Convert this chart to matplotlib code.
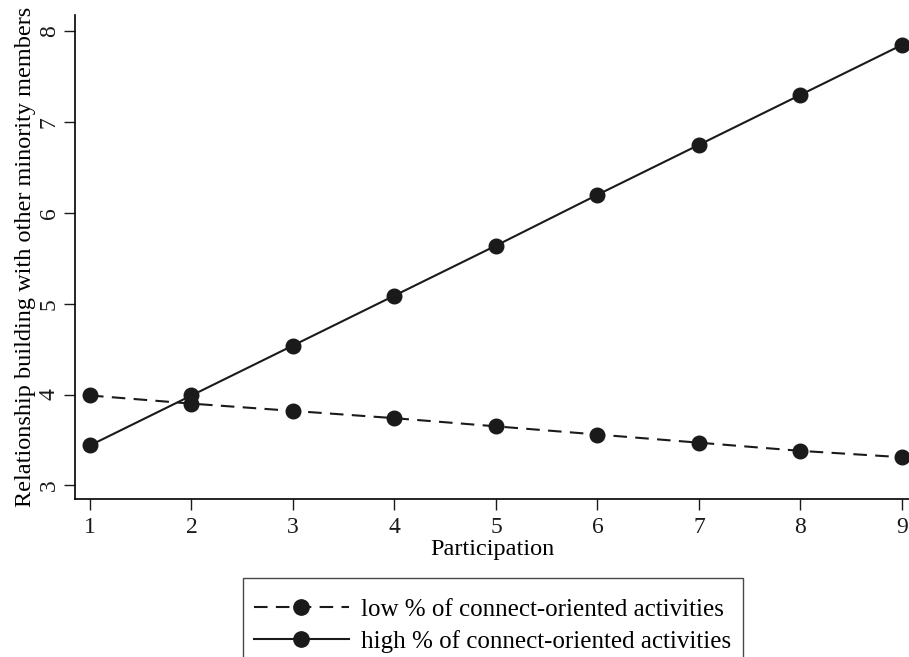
import numpy as np
import matplotlib
matplotlib.use("Agg")
import matplotlib.pyplot as plt

# data
participation = [1, 2, 3, 4, 5, 6, 7, 8, 9]
low_connect = [3.99, 3.90, 3.82, 3.74, 3.65, 3.56, 3.47, 3.38, 3.31]
high_connect = [3.44, 3.99, 4.54, 5.09, 5.64, 6.20, 6.75, 7.30, 7.85]
y_ticks = [3, 4, 5, 6, 7, 8]

plt.rcParams['font.family'] = ['Liberation Serif', 'DejaVu Serif']
plt.rcParams['font.size'] = 17

fig = plt.figure(figsize=(9.09, 6.57), dpi=100)
ax = fig.add_axes([0.0825, 0.2405, 0.9175, 0.7367])

ax.plot(participation, low_connect, color='#1a1a1a', linestyle=(0, (6.5, 4)),
        linewidth=1.5, marker='o', markersize=10.5,
        label='low % of connect-oriented activities')
ax.plot(participation, high_connect, color='#1a1a1a', linestyle='-',
        linewidth=1.5, marker='o', markersize=10.5,
        label='high % of connect-oriented activities')

ax.set_xlim(0.852, 9.07)
ax.set_ylim(2.85, 8.18)
ax.set_xticks(participation)
ax.set_yticks(y_ticks)
for lab in ax.get_yticklabels():
    lab.set_rotation(90)
    lab.set_va('center')

ax.tick_params(direction='out', length=8, width=1, colors='#1a1a1a', labelsize=17)
ax.tick_params(axis='y', pad=3)
ax.tick_params(axis='x', pad=5)
ax.spines['top'].set_visible(False)
ax.spines['right'].set_visible(False)
ax.spines['left'].set_linewidth(1.2)
ax.spines['bottom'].set_linewidth(1.2)

ax.set_xlabel('Participation', fontsize=17.5, labelpad=1)
ax.set_ylabel('Relationship building with other minority members', fontsize=17.5, labelpad=2)

# tiny empty title just pushes the entries down a bit inside the box
leg = fig.legend(loc='upper left', bbox_to_anchor=(0.267, 0.121), frameon=True,
                 fancybox=False, edgecolor='#1a1a1a', handlelength=3.8,
                 handletextpad=0.5, borderpad=0.45, labelspacing=0.35,
                 fontsize=18, borderaxespad=0, markerscale=1.05,
                 title=' ', title_fontsize=1)
leg.get_frame().set_linewidth(1.0)

fig.savefig('out.png', dpi=100)
